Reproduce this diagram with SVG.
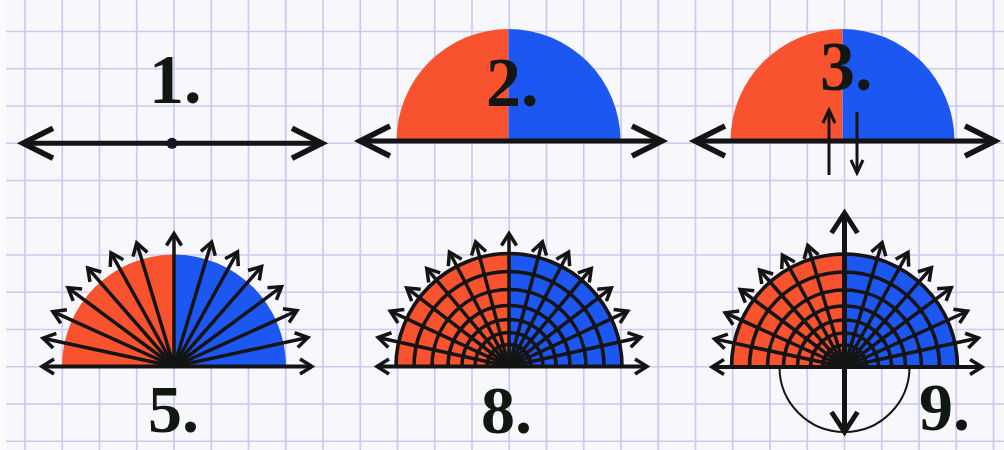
<svg xmlns="http://www.w3.org/2000/svg" width="1004" height="450" viewBox="0 0 1004 450">
<defs>
<style>
.grid{stroke:#cecaee;stroke-width:1.7;fill:none}
.ink{stroke:#141414;fill:none}
.ray{stroke:#141414;stroke-width:3.5;fill:none;marker-end:url(#ah)}
.axT{stroke:#141414;stroke-width:5;fill:none;marker-start:url(#AH);marker-end:url(#AH)}
.axB{stroke:#141414;stroke-width:3.8;fill:none;marker-start:url(#ah);marker-end:url(#ah)}
.arc{stroke:#141414;stroke-width:3.6;fill:none}
.red{fill:#f8522f}
.blue{fill:#1d57f1}
.num{font-family:"Liberation Serif","Times New Roman",serif;font-weight:bold;fill:#111711}
</style>
<marker id="ah" markerWidth="1" markerHeight="1" refX="0" refY="0" orient="auto-start-reverse" markerUnits="userSpaceOnUse" style="overflow:visible">
<path d="M-12,-7.5 L0,0 L-12,7.5" stroke="#141414" stroke-width="3.5" fill="none"/>
</marker>
<marker id="AH" markerWidth="1" markerHeight="1" refX="0" refY="0" orient="auto-start-reverse" markerUnits="userSpaceOnUse" style="overflow:visible">
<path d="M-30,-15 L0,0 L-30,15" stroke="#141414" stroke-width="5.5" fill="none"/>
</marker>
<marker id="BH" markerWidth="1" markerHeight="1" refX="0" refY="0" orient="auto-start-reverse" markerUnits="userSpaceOnUse" style="overflow:visible">
<path d="M-20,-13 L0,0 L-20,13" stroke="#141414" stroke-width="5" fill="none"/>
</marker>
<marker id="sh" markerWidth="1" markerHeight="1" refX="0" refY="0" orient="auto" markerUnits="userSpaceOnUse" style="overflow:visible">
<path d="M-13,-6 L0,0 L-13,6" stroke="#141414" stroke-width="3" fill="none"/>
</marker>
</defs>

<g id="paper">
<rect x="0" y="0" width="1004" height="450" fill="#f7f7fc"/>
<path class="grid" d="M25 0V450M62.25 0V450M99.5 0V450M136.75 0V450M174 0V450M211.25 0V450M248.5 0V450M285.75 0V450M323 0V450M360.25 0V450M397.5 0V450M434.75 0V450M472 0V450M509.25 0V450M546.5 0V450M583.75 0V450M621 0V450M658.25 0V450M695.5 0V450M732.75 0V450M770 0V450M807.25 0V450M844.5 0V450M881.75 0V450M919 0V450M956.25 0V450M993.5 0V450"/>
<path class="grid" d="M0 31.5H1004M0 68.75H1004M0 106H1004M0 143.25H1004M0 180.5H1004M0 217.75H1004M0 255H1004M0 292.25H1004M0 329.5H1004M0 366.75H1004M0 404H1004M0 441.25H1004"/>
<rect x="0" y="0" width="6" height="450" fill="#fbfbfd"/>
</g>

<g id="panel1">
<path class="axT" d="M23 143.3H322"/>
<circle cx="172" cy="143.3" r="5.5" fill="#161626"/>
<text class="num" x="149" y="103" font-size="70">1.</text>
</g>

<g id="panel2">
<path class="red" d="M508.5 141H396.5A112 112 0 0 1 508.5 29Z"/>
<path class="blue" d="M508.5 141V29A112 112 0 0 1 620.5 141Z"/>
<path class="axT" d="M360 141H662"/>
<text class="num" x="486" y="106" font-size="70">2.</text>
</g>

<g id="panel3">
<path class="red" d="M842.5 141H730.5A112 112 0 0 1 842.5 29Z"/>
<path class="blue" d="M842.5 141V29A112 112 0 0 1 954.5 141Z"/>
<path class="axT" d="M695 141H995"/>
<text class="num" x="820" y="90" font-size="70">3.</text>
<g id="arrows3">
<path class="ink" stroke-width="3" marker-end="url(#sh)" d="M829 175V110"/>
<path class="ink" stroke-width="3" marker-end="url(#sh)" d="M857 112V173"/>
</g>
</g>

<g id="panel5">
<path class="red" d="M174 366.5H62A112 112 0 0 1 174 254.5Z"/>
<path class="blue" d="M174 366.5V254.5A112 112 0 0 1 286 366.5Z"/>
<g transform="translate(174 366.5)">
<line class="ray" x2="137" transform="rotate(-12.2)"/>
<line class="ray" x2="135" transform="rotate(-24.4)"/>
<line class="ray" x2="134" transform="rotate(-36.6)"/>
<line class="ray" x2="133" transform="rotate(-48.8)"/>
<line class="ray" x2="131" transform="rotate(-61)"/>
<line class="ray" x2="130" transform="rotate(-73.2)"/>
<line class="ray" x2="133" transform="rotate(-90)"/>
<line class="ray" x2="134" transform="rotate(-167.8)"/>
<line class="ray" x2="133" transform="rotate(-155.6)"/>
<line class="ray" x2="132" transform="rotate(-143.4)"/>
<line class="ray" x2="131" transform="rotate(-131.2)"/>
<line class="ray" x2="130" transform="rotate(-119)"/>
<line class="ray" x2="129" transform="rotate(-106.8)"/>
</g>
<path class="axB" d="M42 366.5H312"/>
<text class="num" x="148" y="432" font-size="68">5.</text>
</g>

<g id="panel8">
<path class="red" d="M509 366.5H396A113 113 0 0 1 509 253.5Z"/>
<path class="blue" d="M509 366.5V253.5A113 113 0 0 1 622 366.5Z"/>
<path class="arc" d="M414 366.5A95 95 0 0 1 604 366.5M432 366.5A77 77 0 0 1 586 366.5M448 366.5A61 61 0 0 1 570 366.5M462 366.5A47 47 0 0 1 556 366.5M475 366.5A34 34 0 0 1 543 366.5M487 366.5A22 22 0 0 1 531 366.5"/>
<g transform="translate(509 366.5)">
<line class="ray" x2="135" transform="rotate(-12.5)"/>
<line class="ray" x2="131" transform="rotate(-25)"/>
<line class="ray" x2="129" transform="rotate(-37.5)"/>
<line class="ray" x2="128" transform="rotate(-50)"/>
<line class="ray" x2="129" transform="rotate(-62.5)"/>
<line class="ray" x2="129" transform="rotate(-75)"/>
<line class="ray" x2="133" transform="rotate(-90)"/>
<line class="ray" x2="134" transform="rotate(-167.5)"/>
<line class="ray" x2="131" transform="rotate(-155)"/>
<line class="ray" x2="129" transform="rotate(-142.5)"/>
<line class="ray" x2="128" transform="rotate(-130)"/>
<line class="ray" x2="129" transform="rotate(-117.5)"/>
<line class="ray" x2="129" transform="rotate(-105)"/>
</g>
<path class="arc" stroke-width="4" d="M396 366.5A113 113 0 0 1 622 366.5"/>
<path class="axB" d="M377 366.5H647"/>
<text class="num" x="481" y="433" font-size="68">8.</text>
</g>

<g id="panel9">
<path class="red" d="M844.5 367H731.5A113 113 0 0 1 844.5 254Z"/>
<path class="blue" d="M844.5 367V254A113 113 0 0 1 957.5 367Z"/>
<path class="arc" d="M749.5 367A95 95 0 0 1 939.5 367M767.5 367A77 77 0 0 1 921.5 367M783.5 367A61 61 0 0 1 905.5 367M797.5 367A47 47 0 0 1 891.5 367M810.5 367A34 34 0 0 1 878.5 367M822.5 367A22 22 0 0 1 866.5 367"/>
<g transform="translate(844.5 367)">
<line class="ray" x2="137" transform="rotate(-12.2)"/>
<line class="ray" x2="135" transform="rotate(-24.4)"/>
<line class="ray" x2="133" transform="rotate(-36.6)"/>
<line class="ray" x2="132" transform="rotate(-48.8)"/>
<line class="ray" x2="131" transform="rotate(-61)"/>
<line class="ray" x2="130" transform="rotate(-73.2)"/>
<line class="ray" x2="133" transform="rotate(-167.8)"/>
<line class="ray" x2="131" transform="rotate(-155.6)"/>
<line class="ray" x2="130" transform="rotate(-143.4)"/>
<line class="ray" x2="129" transform="rotate(-131.2)"/>
<line class="ray" x2="128" transform="rotate(-119)"/>
<line class="ray" x2="127" transform="rotate(-106.8)"/>
</g>
<path class="arc" stroke-width="4" d="M731.5 367A113 113 0 0 1 957.5 367"/>
<path class="axB" d="M712 367H982"/>
<path class="ink" stroke-width="2" d="M779.5 367A65 65 0 0 0 909.5 367"/>
<path class="ink" stroke-width="5" marker-start="url(#BH)" marker-end="url(#BH)" d="M844.5 213V432"/>
<text class="num" x="919" y="430" font-size="68">9.</text>
</g>
</svg>
